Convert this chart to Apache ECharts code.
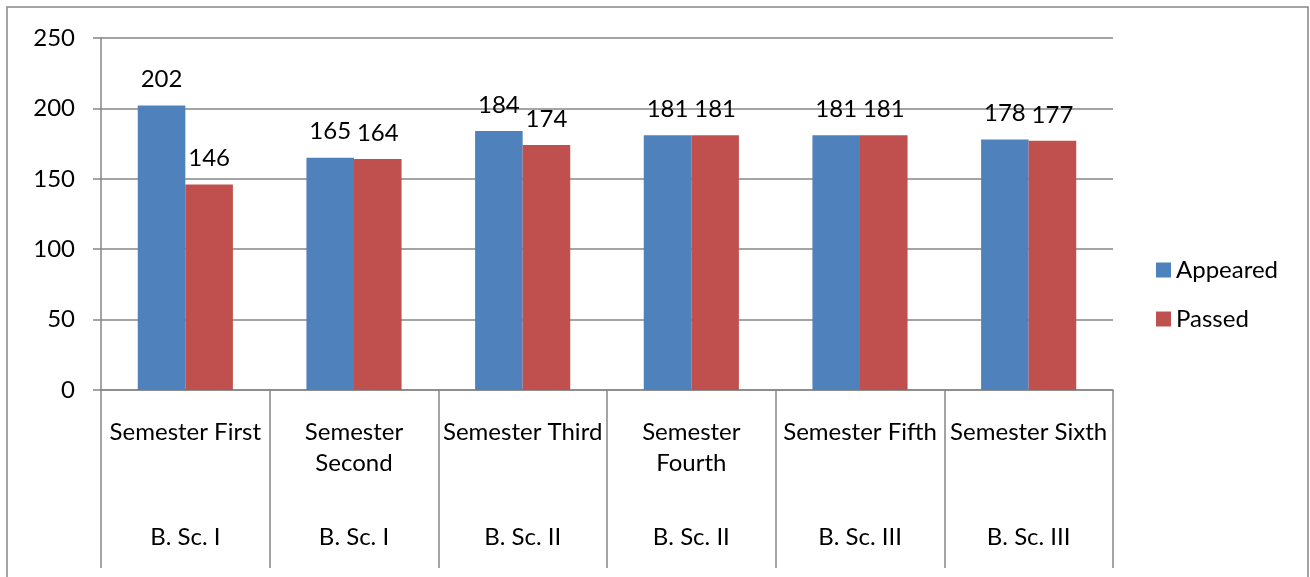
<!DOCTYPE html>
<html><head><meta charset="utf-8">
<script src="https://cdn.jsdelivr.net/npm/echarts@6/dist/echarts.min.js"></script>
<style>html,body{margin:0;padding:0;background:#fff}#c{width:1310px;height:577px}</style>
</head><body><div id="c"></div>
<script>
const semesters = ['Semester First', 'Semester\nSecond', 'Semester Third', 'Semester\nFourth', 'Semester Fifth', 'Semester Sixth'];
const classes = ['B. Sc. I', 'B. Sc. I', 'B. Sc. II', 'B. Sc. II', 'B. Sc. III', 'B. Sc. III'];
const appeared = [202, 165, 184, 181, 181, 178];
const passed = [146, 164, 174, 181, 181, 177];
const yTicks = [0, 50, 100, 150, 200, 250];

const FONT = 'Lato';
const FS = 24;
const chart = echarts.init(document.getElementById('c'), null, {renderer: 'canvas'});
chart.setOption({
  animation: false,
  textStyle: {fontFamily: FONT},
  graphic: [{type: 'rect', shape: {x: 7, y: 7, width: 1301, height: 620}, style: {fill: 'none', stroke: '#868686', lineWidth: 1.5}, z: -1}],
  grid: {left: 101, top: 38, width: 1012, height: 352},
  legend: {
    orient: 'vertical', left: 1151, top: 253, itemWidth: 15, itemHeight: 15, itemGap: 25,
    icon: 'rect', textStyle: {fontFamily: FONT, fontSize: FS, color: '#000'},
    data: ['Appeared', 'Passed']
  },
  xAxis: [{
    type: 'category', data: semesters, position: 'bottom',
    axisLine: {lineStyle: {color: '#868686', width: 1.5}},
    axisTick: {show: true, length: 178, interval: 0, lineStyle: {color: '#868686', width: 1.5}},
    axisLabel: {interval: 0, margin: 27, fontFamily: FONT, fontSize: FS, color: '#000', lineHeight: 31, verticalAlign: 'top'}
  }, {
    type: 'category', data: classes, position: 'bottom', offset: 0,
    axisLine: {show: false}, axisTick: {show: false},
    axisLabel: {interval: 0, margin: 135, fontFamily: FONT, fontSize: FS, color: '#000', verticalAlign: 'top'}
  }],
  yAxis: {
    type: 'value', min: yTicks[0], max: yTicks[yTicks.length - 1], interval: 50,
    axisLine: {show: true, lineStyle: {color: '#868686', width: 1.5}},
    axisTick: {show: true, length: 8, lineStyle: {color: '#868686', width: 1.5}},
    splitLine: {lineStyle: {color: '#868686', width: 1.5}},
    axisLabel: {margin: 26, fontFamily: FONT, fontSize: FS, color: '#000'}
  },
  series: [{
    name: 'Appeared', type: 'bar', data: appeared, barGap: '0%', barCategoryGap: '43.6%',
    itemStyle: {color: '#4F81BD'},
    label: {show: true, position: 'top', distance: 14, fontFamily: FONT, fontSize: FS, color: '#000'}
  }, {
    name: 'Passed', type: 'bar', data: passed, barGap: '0%', barCategoryGap: '43.6%',
    itemStyle: {color: '#C0504D'},
    label: {show: true, position: 'top', distance: 14, fontFamily: FONT, fontSize: FS, color: '#000'}
  }]
});
</script></body></html>
